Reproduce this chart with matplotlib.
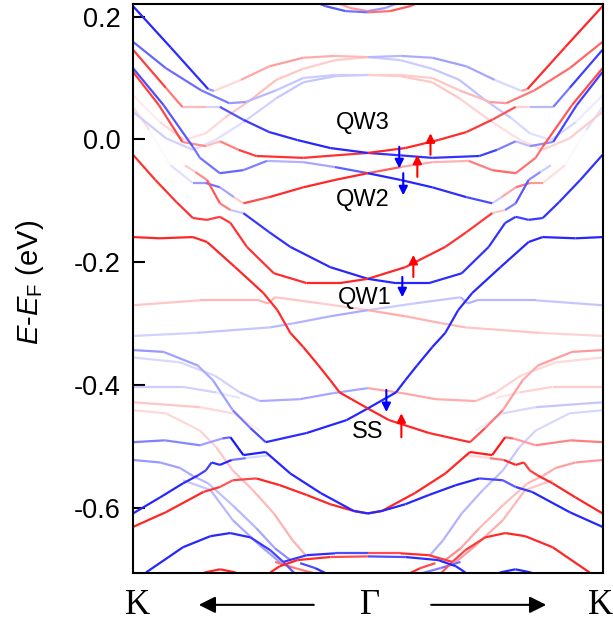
import numpy as np
import matplotlib.pyplot as plt
from matplotlib.collections import LineCollection

plt.rcParams['font.family'] = 'Liberation Sans'
plt.rcParams['mathtext.fontset'] = 'custom'
plt.rcParams['mathtext.rm'] = 'Liberation Sans'
plt.rcParams['mathtext.it'] = 'Liberation Sans:italic'

# half bands read off the K (k=-1) -> Gamma (k=0) side: (k, E-EF in eV, spin pol.)
# the Gamma -> K side is the time reversal partner: k -> -k, spin -> -spin
top_a = [(-0.245, 0.227, -0.6), (-0.18, 0.217, -0.7), (-0.095, 0.209, -0.6), (0.0, 0.207, -0.5)]
top_b = [(-0.16, 0.227, 0.35), (-0.075, 0.214, 0.4), (0.0, 0.209, 0.4)]
hump_1 = [(-1.00, 0.217, -0.85), (-0.84, 0.150, -0.85), (-0.68, 0.082, -0.8), (-0.655, 0.079, 0.0),
          (-0.54, 0.097, 0.3), (-0.42, 0.119, 0.4), (-0.275, 0.133, 0.35), (-0.14, 0.136, 0.3), (0.0, 0.134, 0.25)]
hump_2 = [(-1.00, 0.159, -0.6), (-0.86, 0.116, -0.6), (-0.71, 0.080, -0.55), (-0.59, 0.059, -0.5),
          (-0.52, 0.061, -0.3), (-0.39, 0.080, -0.25), (-0.275, 0.100, -0.2), (-0.14, 0.105, -0.2), (0.0, 0.105, -0.2)]
hump_3 = [(-1.00, 0.072, 0.0), (-0.885, 0.028, 0.15), (-0.78, -0.001, 0.15), (-0.69, 0.010, 0.1),
          (-0.61, 0.035, 0.2), (-0.50, 0.064, 0.25), (-0.39, 0.097, 0.25), (-0.275, 0.115, 0.2),
          (-0.14, 0.129, 0.2), (0.0, 0.134, 0.2)]
hump_4 = [(-1.00, 0.045, -0.2), (-0.86, 0.002, -0.2), (-0.745, -0.017, -0.15), (-0.65, -0.001, -0.1),
          (-0.53, 0.028, -0.15), (-0.39, 0.067, -0.2), (-0.275, 0.093, -0.25), (-0.14, 0.103, -0.2), (0.0, 0.105, -0.2)]
qw3_dn = [(-1.00, 0.146, 0.75), (-0.86, 0.084, 0.75), (-0.79, 0.053, 0.3), (-0.69, 0.053, 0.25),
          (-0.63, 0.053, -0.6), (-0.53, 0.032, -0.75), (-0.42, 0.012, -0.8), (-0.30, -0.001, -0.85),
          (-0.16, -0.014, -0.85), (0.0, -0.022, -0.85)]
qw3_up = [(-1.00, 0.110, 0.75), (-0.89, 0.056, 0.75), (-0.79, -0.004, 0.7), (-0.69, -0.011, 0.2),
          (-0.63, -0.003, 0.3), (-0.55, -0.017, 0.7), (-0.475, -0.027, 0.8), (-0.275, -0.030, 0.8),
          (-0.14, -0.026, 0.8), (0.0, -0.022, 0.8)]
qw2_dn = [(-1.00, 0.116, -0.7), (-0.87, 0.056, -0.7), (-0.745, -0.012, -0.6), (-0.715, -0.030, -0.5),
          (-0.63, -0.055, -0.6), (-0.53, -0.050, -0.6), (-0.43, -0.035, -0.4), (-0.275, -0.037, -0.2),
          (-0.14, -0.045, -0.5), (0.0, -0.055, -0.75)]
qw2_up = [(-1.00, 0.053, 0.15), (-0.93, 0.015, 0.1), (-0.84, -0.042, -0.05), (-0.745, -0.071, -0.2),
          (-0.69, -0.071, -0.6), (-0.63, -0.078, -0.5), (-0.57, -0.094, -0.2), (-0.53, -0.104, 0.6),
          (-0.42, -0.094, 0.8), (-0.275, -0.078, 0.85), (-0.14, -0.066, 0.85), (0.0, -0.055, 0.85)]
qw1_up = [(-1.00, -0.025, 0.8), (-0.905, -0.066, 0.8), (-0.815, -0.102, 0.8), (-0.745, -0.128, 0.8),
          (-0.685, -0.131, 0.75), (-0.63, -0.126, 0.75), (-0.585, -0.136, 0.8), (-0.515, -0.175, 0.8),
          (-0.40, -0.218, 0.8), (-0.26, -0.234, 0.85), (-0.12, -0.234, 0.85), (0.0, -0.227, 0.85)]
qw1_dn = [(-0.78, -0.042, 0.1), (-0.735, -0.053, 0.3), (-0.685, -0.066, 0.6), (-0.63, -0.104, 0.7),
          (-0.585, -0.115, 0.3), (-0.53, -0.120, -0.75), (-0.42, -0.151, -0.8), (-0.33, -0.175, -0.8),
          (-0.16, -0.208, -0.85), (0.0, -0.227, -0.85)]
ss_up = [(-1.00, -0.159, 0.85), (-0.885, -0.161, 0.85), (-0.745, -0.159, 0.85), (-0.685, -0.167, 0.85),
         (-0.565, -0.208, 0.85), (-0.445, -0.250, 0.85), (-0.385, -0.278, 0.8), (-0.33, -0.315, 0.85),
         (-0.275, -0.338, 0.85), (-0.21, -0.368, 0.85), (-0.16, -0.392, 0.85), (-0.12, -0.412, 0.85),
         (0.0, -0.438, 0.85)]
ss_dn = [(-1.00, -0.343, -0.4), (-0.87, -0.346, -0.4), (-0.725, -0.368, -0.35), (-0.66, -0.392, -0.3),
         (-0.575, -0.441, -0.45), (-0.50, -0.470, -0.6), (-0.435, -0.493, -0.8), (-0.26, -0.478, -0.85),
         (-0.09, -0.457, -0.85), (0.0, -0.438, -0.85)]
mid_a = [(-1.00, -0.270, 0.2), (-0.715, -0.262, 0.25), (-0.465, -0.262, 0.3), (-0.425, -0.267, 0.3),
         (-0.395, -0.257, 0.25), (-0.20, -0.267, 0.2), (0.0, -0.278, 0.2)]
mid_b = [(-1.00, -0.320, -0.15), (-0.73, -0.315, -0.2), (-0.415, -0.306, -0.25), (-0.31, -0.299, -0.3),
         (-0.16, -0.288, -0.3), (0.0, -0.278, -0.35)]
low_a = [(-1.00, -0.355, -0.15), (-0.80, -0.363, -0.15), (-0.65, -0.385, -0.15), (-0.545, -0.412, -0.2),
         (-0.46, -0.426, -0.3), (-0.29, -0.423, -0.35), (-0.145, -0.413, -0.35), (0.0, -0.405, -0.35)]
low_b = [(-1.00, -0.403, -0.2), (-0.787, -0.403, -0.2), (-0.646, -0.412, -0.15), (-0.545, -0.421, -0.05)]
low_c = [(-1.00, -0.428, 0.25), (-0.715, -0.436, 0.2), (-0.575, -0.446, 0.1), (-0.46, -0.474, 0.05)]
low_d = [(-1.00, -0.441, 0.15), (-0.86, -0.446, 0.15), (-0.715, -0.474, 0.15), (-0.646, -0.501, 0.2),
         (-0.575, -0.539, 0.25), (-0.49, -0.571, 0.25), (-0.40, -0.609, 0.3), (-0.32, -0.653, 0.3),
         (-0.265, -0.677, 0.3)]
deep_dn = [(-1.00, -0.493, -0.5), (-0.865, -0.490, -0.5), (-0.715, -0.498, -0.45), (-0.62, -0.487, -0.3),
           (-0.585, -0.485, -0.9), (-0.53, -0.514, -0.9), (-0.435, -0.509, -0.85), (-0.33, -0.544, -0.85),
           (-0.20, -0.576, -0.85), (-0.06, -0.605, -0.85), (0.0, -0.609, -0.85)]
deep_up = [(-1.00, -0.631, 0.85), (-0.86, -0.607, 0.85), (-0.70, -0.574, 0.85), (-0.63, -0.566, 0.7),
           (-0.575, -0.555, 0.6), (-0.475, -0.552, 0.85), (-0.375, -0.563, 0.85), (-0.26, -0.579, 0.85),
           (-0.16, -0.594, 0.85), (-0.06, -0.605, 0.85), (0.0, -0.609, 0.85)]
deep_b = [(-1.00, -0.609, -0.85), (-0.885, -0.583, -0.85), (-0.787, -0.560, -0.85), (-0.723, -0.547, -0.8),
          (-0.69, -0.539, -0.7), (-0.665, -0.526, -0.8), (-0.63, -0.530, -0.85), (-0.58, -0.522, -0.85),
          (-0.52, -0.519, -0.2), (-0.415, -0.514, -0.1)]
deep_c = [(-1.00, -0.522, -0.4), (-0.885, -0.526, -0.4), (-0.80, -0.535, -0.35), (-0.745, -0.548, -0.3),
          (-0.68, -0.560, -0.25), (-0.575, -0.596, -0.25), (-0.475, -0.633, -0.3), (-0.395, -0.666, -0.4),
          (-0.33, -0.685, -0.5)]
deep_d = [(-0.787, -0.555, -0.2), (-0.67, -0.571, -0.25), (-0.575, -0.620, -0.3), (-0.46, -0.661, -0.35),
          (-0.36, -0.693, -0.4)]
arc_dn = [(-1.00, -0.734, -0.85), (-0.944, -0.705, -0.85), (-0.787, -0.664, -0.85), (-0.67, -0.646, -0.85),
          (-0.586, -0.641, -0.85), (-0.50, -0.648, -0.8), (-0.415, -0.669, -0.75), (-0.36, -0.688, -0.7),
          (-0.29, -0.715, -0.6)]
cap_up = [(-0.757, -0.718, 0.85), (-0.693, -0.705, 0.85), (-0.629, -0.700, 0.85), (-0.565, -0.705, 0.85),
          (-0.50, -0.718, 0.85)]
bot_a = [(-0.36, -0.688, -0.7), (-0.26, -0.677, -0.85), (-0.14, -0.674, -0.8), (0.0, -0.674, -0.6)]
bot_b = [(-0.415, -0.705, 0.8), (-0.375, -0.695, 0.85), (-0.30, -0.685, 0.85), (-0.16, -0.680, 0.8),
         (0.0, -0.679, 0.6)]
bot_c = [(-0.288, -0.690, -0.6), (-0.224, -0.698, -0.8), (-0.16, -0.710, -0.8)]
bot_d = [(-0.395, -0.688, 0.5), (-0.31, -0.698, 0.6), (-0.224, -0.707, 0.4)]

bands = [top_a, top_b, hump_1, hump_2, hump_3, hump_4, qw3_dn, qw3_up, qw2_dn, qw2_up,
         qw1_up, qw1_dn, ss_up, ss_dn, mid_a, mid_b, low_a, low_b, low_c, low_d,
         deep_dn, deep_up, deep_b, deep_c, deep_d, arc_dn, cap_up, bot_a, bot_b, bot_c, bot_d]

# labels and spin arrows: (k, E)
labels = ['QW3', 'QW2', 'QW1', 'SS']
label_pos = [(-0.02, 0.027), (-0.02, -0.098), (-0.015, -0.258), (0.0, -0.477)]
# (k, E tail, E head, colour)
spin_arrows = [(0.267, -0.025, 0.010, 'red'), (0.134, -0.012, -0.047, 'blue'),
               (0.211, -0.061, -0.025, 'red'), (0.151, -0.055, -0.091, 'blue'),
               (0.194, -0.224, -0.188, 'red'), (0.147, -0.224, -0.257, 'blue'),
               (0.079, -0.408, -0.444, 'blue'), (0.143, -0.485, -0.446, 'red')]

segs, spins = [], []
for band in bands:
    for sign in (1, -1):
        pts = [(sign * k, e, sign * s) for k, e, s in band]
        for p, q in zip(pts[:-1], pts[1:]):
            segs.append([(p[0], p[1]), (q[0], q[1])])
            spins.append(0.5 * (p[2] + q[2]))
spins = np.array(spins)
order = np.argsort(np.abs(spins))

fig = plt.figure(figsize=(6.13, 6.28), dpi=100)
ax = fig.add_axes([0.217, 0.0876, 0.766, 0.906])

lc = LineCollection([segs[i] for i in order], cmap='bwr', norm=plt.Normalize(-1, 1),
                    linewidths=1.6, capstyle='butt')
lc.set_array(spins[order])
ax.add_collection(lc)

for txt, (k, e) in zip(labels, label_pos):
    ax.text(k, e, txt, fontsize=17, ha='center', va='center')
for k, e0, e1, c in spin_arrows:
    ax.annotate('', xy=(k, e1), xytext=(k, e0),
                arrowprops=dict(arrowstyle='-|>', color=c, lw=1.5, mutation_scale=13,
                                shrinkA=0, shrinkB=0))

ax.set_xlim(-1, 1)
ax.set_ylim(-0.706, 0.2205)
ax.set_xticks([])
ax.set_yticks([0.2, 0.0, -0.2, -0.4, -0.6])
ax.set_yticklabels(['0.2', '0.0', '-0.2', '-0.4', '-0.6'])
ax.tick_params(axis='y', direction='in', length=8.5, width=1.5, labelsize=19.5, pad=9)
for sp in ax.spines.values():
    sp.set_linewidth(1.5)
ax.set_ylabel(r'$E$-$E_{\rm F}$ (eV)', fontsize=21)
ax.yaxis.set_label_coords(-0.185, 0.51)

# k-path labels under the panel
tr = ax.get_xaxis_transform()
for k, name in [(-0.98, 'K'), (0.01, '\u0393'), (0.99, 'K')]:
    ax.text(k, -0.058, name, transform=tr, ha='center', va='center',
            fontsize=25, family='Liberation Serif')
for k0, k1 in [(-0.23, -0.72), (0.27, 0.76)]:
    ax.annotate('', xy=(k1, -0.056), xytext=(k0, -0.056), xycoords=tr, textcoords=tr,
                arrowprops=dict(arrowstyle='-|>', color='black', lw=1.5, mutation_scale=25,
                                shrinkA=0, shrinkB=0), annotation_clip=False)

fig.savefig('out.png', dpi=100)
